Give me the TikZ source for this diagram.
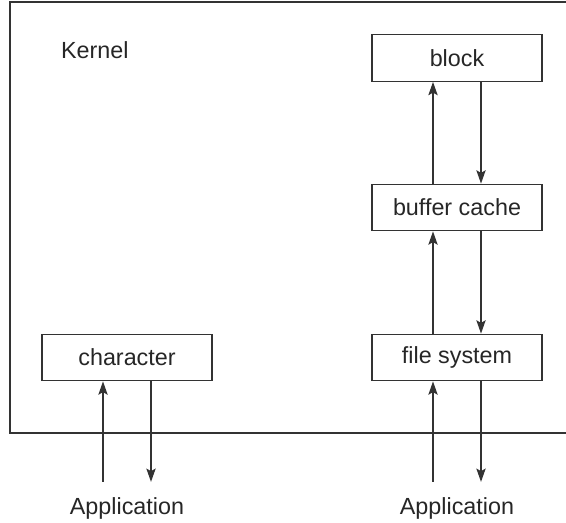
\documentclass[tikz,border=0pt]{standalone}
\usepackage{fontspec}
\setmainfont{Liberation Sans}
\usepackage{tikz}
\usetikzlibrary{arrows.meta,positioning}

\begin{document}
\begin{tikzpicture}[
    x=0.75pt,y=-0.75pt,
    line width=0.9pt,
    layer/.style={draw=black!80,minimum width=127.5pt,minimum height=35pt,
                  inner sep=0pt,font=\fontsize{17.5}{21}\selectfont,text=black!85},
    app/.style={font=\fontsize{17.5}{21}\selectfont,text=black!85,inner ysep=11pt},
    arrow/.style={-{Stealth[length=10pt,width=7pt,inset=2pt]},draw=black!80}
  ]
    \useasboundingbox (0,0) rectangle (566,523);
    % kernel area, open to the right
    \draw[black!80] (566,2) -- (10,2) -- (10,433) -- (566,433);
    \node[anchor=west,font=\fontsize{17.5}{21}\selectfont,text=black!85] (kernel) at (56,50) {Kernel};

    \node[layer] (block) at (457,58) {block};
    \node[layer] (cache) at (457,207.5) {buffer cache};
    \node[layer] (fs)    at (457,357.5) {file system};
    \node[layer] (chr)   at (127,357.5) {character};

    \node[app] (app1) at (127,508) {Application};
    \node[app] (app2) at (457,508) {Application};

    \draw[arrow] ([xshift=-18pt]cache.north) -- ([xshift=-18pt]block.south);
    \draw[arrow] ([xshift=18pt]block.south) -- ([xshift=18pt]cache.north);
    \draw[arrow] ([xshift=-18pt]fs.north) -- ([xshift=-18pt]cache.south);
    \draw[arrow] ([xshift=18pt]cache.south) -- ([xshift=18pt]fs.north);
    \draw[arrow] ([xshift=-18pt]app2.north) -- ([xshift=-18pt]fs.south);
    \draw[arrow] ([xshift=18pt]fs.south) -- ([xshift=18pt]app2.north);
    \draw[arrow] ([xshift=-18pt]app1.north) -- ([xshift=-18pt]chr.south);
    \draw[arrow] ([xshift=18pt]chr.south) -- ([xshift=18pt]app1.north);
\end{tikzpicture}
\end{document}
